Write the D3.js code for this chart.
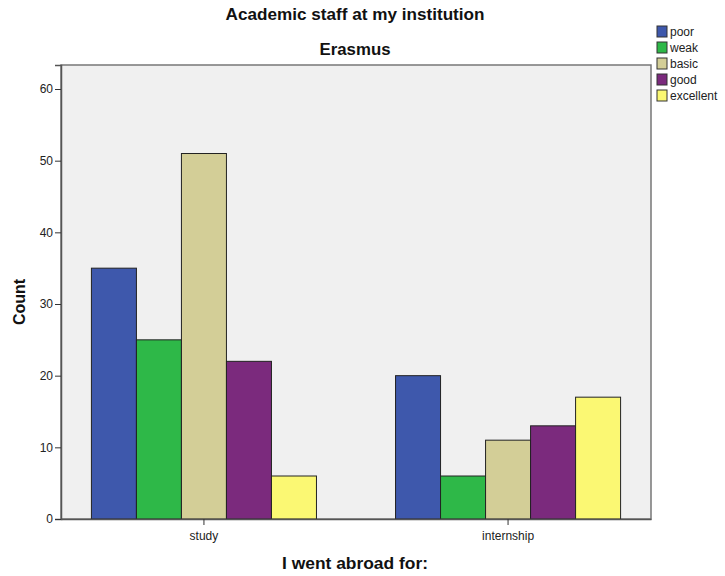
<!DOCTYPE html>
<html><head><meta charset="utf-8">
<script src="https://cdn.jsdelivr.net/npm/d3@7"></script>
<style>body{margin:0;background:#fff}</style>
</head><body>
<svg id="c" width="725" height="576"></svg>
<script>
const categories = ["study", "internship"];
const seriesNames = ["poor", "weak", "basic", "good", "excellent"];
const poor = [35, 20];
const weak = [25, 6];
const basic = [51, 11];
const good = [22, 13];
const excellent = [6, 17];
const yTicks = [0, 10, 20, 30, 40, 50, 60];
const colors = ["#3E58AC", "#2EB848", "#D3CE97", "#7B2A7D", "#FBF873"];

const seriesValues = [poor, weak, basic, good, excellent];
const svg = d3.select("#c");
const L = 61, R = 651, T = 65, B = 519;
const font = "'Liberation Sans', Arial, sans-serif";

const x0 = d3.scaleBand().domain(categories).range([L, R]).paddingInner(0.26).paddingOuter(0.1);
const x1 = d3.scaleBand().domain(seriesNames).range([0, x0.bandwidth()]);
const y = d3.scaleLinear().domain([0, 63.35]).range([B, T]);
const color = d3.scaleOrdinal().domain(seriesNames).range(colors);

svg.append("rect").attr("x", L).attr("y", T).attr("width", R - L).attr("height", B - T)
  .attr("fill", "#F0F0F0").attr("stroke", "#777").attr("stroke-width", 1.5);

const g = svg.append("g");
categories.forEach((c, ci) => {
  seriesNames.forEach((s, si) => {
    const v = seriesValues[si][ci];
    g.append("rect")
      .attr("x", x0(c) + x1(s)).attr("y", y(v))
      .attr("width", x1.bandwidth()).attr("height", y(0) - y(v))
      .attr("fill", color(s)).attr("stroke", "#222").attr("stroke-width", 1);
  });
});

const yAxis = svg.append("g").attr("transform", `translate(${L},0)`)
  .call(d3.axisLeft(y).tickValues(yTicks).tickSize(6).tickPadding(2).tickFormat(d3.format("d")));
yAxis.select(".domain").attr("stroke", "#555").attr("stroke-width", 1.5);
yAxis.selectAll(".tick line").attr("stroke", "#333");
yAxis.selectAll("text").attr("font-family", font).attr("font-size", 12).attr("fill", "#222");

const xAxis = svg.append("g").attr("transform", `translate(0,${B})`)
  .call(d3.axisBottom(x0).tickSize(6).tickPadding(6).tickSizeOuter(0));
xAxis.select(".domain").attr("stroke", "#555").attr("stroke-width", 1.5);
xAxis.selectAll(".tick line").attr("stroke", "#333");
xAxis.selectAll("text").attr("font-family", font).attr("font-size", 12).attr("fill", "#222");

function title(txt, x, yy, len) {
  svg.append("text").attr("x", x).attr("y", yy).attr("text-anchor", "middle")
    .attr("font-family", font).attr("font-weight", "bold").attr("font-size", 17).attr("fill", "#111")
    .attr("textLength", len).attr("lengthAdjust", "spacingAndGlyphs")
    .text(txt);
}
title("Academic staff at my institution", 355, 20, 259);
title("Erasmus", 355, 55, 71);
title("I went abroad for:", 355, 569, 146);
svg.append("text").attr("transform", "translate(25,302) rotate(-90)").attr("text-anchor", "middle")
  .attr("font-family", font).attr("font-weight", "bold").attr("font-size", 16).attr("fill", "#111")
  .text("Count");

const leg = svg.append("g");
seriesNames.forEach((s, i) => {
  const yy = 26 + i * 16;
  leg.append("rect").attr("x", 657).attr("y", yy).attr("width", 10).attr("height", 11)
    .attr("fill", color(s)).attr("stroke", "#333").attr("stroke-width", 1);
  leg.append("text").attr("x", 670).attr("y", yy + 10).attr("font-family", font)
    .attr("font-size", 12).attr("fill", "#222").text(s);
});
</script>
</body></html>
